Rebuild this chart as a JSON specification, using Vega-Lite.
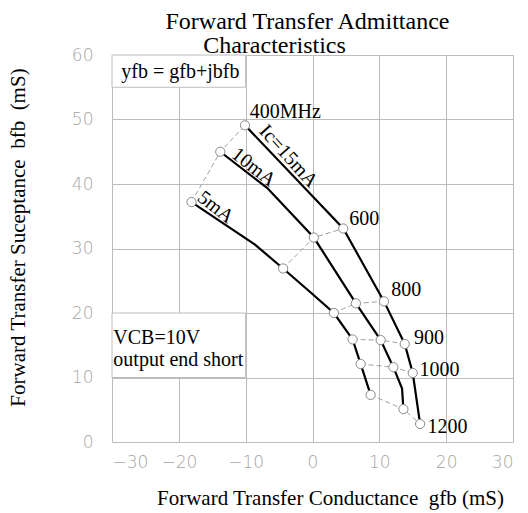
{
  "$schema": "https://vega.github.io/schema/vega-lite/v6.json",
  "width": 401,
  "height": 387,
  "autosize": "none",
  "padding": {"left": 112, "top": 55, "right": 15, "bottom": 71},
  "background": "white",
  "title": {
    "text": "Forward Transfer Admittance",
    "subtitle": "Characteristics\u00a0\u00a0\u00a0\u00a0\u00a0\u00a0\u00a0\u00a0\u00a0\u00a0\u00a0\u200b",
    "font": "Liberation Serif",
    "fontSize": 24,
    "fontWeight": "normal",
    "color": "black",
    "subtitleFont": "Liberation Serif",
    "subtitleFontSize": 24,
    "subtitleColor": "black",
    "subtitlePadding": 0,
    "anchor": "middle",
    "frame": "group",
    "dx": -5,
    "offset": -12
  },
  "config": {
    "view": {"stroke": null},
    "axis": {
      "grid": true,
      "gridColor": "#bcbcbc",
      "gridWidth": 1,
      "ticks": false,
      "domain": false,
      "labelFont": "DejaVu Sans",
      "labelFontWeight": 200,
      "labelFontSize": 17,
      "labelColor": "#a6a6a6",
      "titleFont": "Liberation Serif",
      "titleFontWeight": "normal",
      "titleFontSize": 21,
      "titleColor": "black"
    }
  },
  "layer": [
    {
      "data": {"values": [
        {"g": -30, "g2": -10, "b": 55, "b2": 60},
        {"g": -30, "g2": -10, "b": 10, "b2": 20}
      ]},
      "mark": {"type": "rect", "fill": "white", "stroke": "#bcbcbc", "strokeWidth": 1},
      "encoding": {
        "x": {
          "field": "g", "type": "quantitative",
          "scale": {"domain": [-30, 30], "nice": false, "zero": false},
          "axis": {
            "values": [-30, -25, -20, -15, -10, -5, 0, 5, 10, 15, 20, 25, 30],
            "labelExpr": "datum.value % 10 === 0 ? datum.label : ''",
            "labelPadding": 12,
            "title": "Forward Transfer Conductance\u00a0\u00a0gfb (mS)",
            "titleX": 218,
            "titleY": 62,
            "titleBaseline": "alphabetic"
          }
        },
        "x2": {"field": "g2"},
        "y": {
          "field": "b", "type": "quantitative",
          "scale": {"domain": [0, 60], "nice": false, "zero": false},
          "axis": {
            "values": [0, 5, 10, 15, 20, 25, 30, 35, 40, 45, 50, 55, 60],
            "labelExpr": "datum.value % 10 === 0 ? datum.label : ''",
            "labelPadding": 19,
            "title": "Forward Transfer Suceptance\u00a0\u00a0bfb\u00a0\u00a0(mS)",
            "titleX": -94,
            "titleY": 182,
            "titleAngle": -90,
            "titleBaseline": "middle"
          }
        },
        "y2": {"field": "b2"}
      }
    },
    {
      "data": {"values": [
        {"freq": 400, "ic": 5, "g": -18.1, "b": 37.2},
        {"freq": 400, "ic": 10, "g": -13.8, "b": 45.0},
        {"freq": 400, "ic": 15, "g": -10.1, "b": 49.1},
        {"freq": 600, "ic": 5, "g": -4.4, "b": 26.9},
        {"freq": 600, "ic": 10, "g": 0.2, "b": 31.7},
        {"freq": 600, "ic": 15, "g": 4.6, "b": 33.1},
        {"freq": 800, "ic": 5, "g": 3.2, "b": 20.0},
        {"freq": 800, "ic": 10, "g": 6.5, "b": 21.5},
        {"freq": 800, "ic": 15, "g": 10.7, "b": 21.8},
        {"freq": 900, "ic": 5, "g": 6.0, "b": 15.9},
        {"freq": 900, "ic": 10, "g": 10.2, "b": 15.8},
        {"freq": 900, "ic": 15, "g": 13.8, "b": 15.2},
        {"freq": 1000, "ic": 5, "g": 7.2, "b": 12.1},
        {"freq": 1000, "ic": 10, "g": 12.1, "b": 11.6},
        {"freq": 1000, "ic": 15, "g": 15.0, "b": 10.7},
        {"freq": 1200, "ic": 5, "g": 8.7, "b": 7.3},
        {"freq": 1200, "ic": 10, "g": 13.6, "b": 5.1},
        {"freq": 1200, "ic": 15, "g": 16.1, "b": 2.8}
      ]},
      "mark": {"type": "line", "color": "#a0a0a0", "strokeWidth": 1, "strokeDash": [5, 3]},
      "encoding": {
        "x": {"field": "g", "type": "quantitative"},
        "y": {"field": "b", "type": "quantitative"},
        "detail": {"field": "freq"},
        "order": {"field": "ic"}
      }
    },
    {
      "data": {"values": [
        {"ic": 15, "seq": 1, "g": -10.1, "b": 49.1},
        {"ic": 15, "seq": 2, "g": 4.6, "b": 33.1},
        {"ic": 15, "seq": 3, "g": 10.7, "b": 21.8},
        {"ic": 15, "seq": 4, "g": 13.8, "b": 15.2},
        {"ic": 15, "seq": 5, "g": 15.0, "b": 10.7},
        {"ic": 15, "seq": 6, "g": 16.1, "b": 2.8},
        {"ic": 10, "seq": 1, "g": -13.8, "b": 45.0},
        {"ic": 10, "seq": 2, "g": -6.8, "b": 39.4},
        {"ic": 10, "seq": 3, "g": 0.2, "b": 31.7},
        {"ic": 10, "seq": 4, "g": 6.5, "b": 21.5},
        {"ic": 10, "seq": 5, "g": 10.2, "b": 15.8},
        {"ic": 10, "seq": 6, "g": 12.1, "b": 11.6},
        {"ic": 10, "seq": 7, "g": 13.4, "b": 8.3},
        {"ic": 10, "seq": 8, "g": 13.6, "b": 5.1},
        {"ic": 5, "seq": 1, "g": -18.1, "b": 37.2},
        {"ic": 5, "seq": 2, "g": -8.6, "b": 30.6},
        {"ic": 5, "seq": 3, "g": -4.4, "b": 26.9},
        {"ic": 5, "seq": 4, "g": -0.4, "b": 23.3},
        {"ic": 5, "seq": 5, "g": 3.2, "b": 20.0},
        {"ic": 5, "seq": 6, "g": 6.0, "b": 15.9},
        {"ic": 5, "seq": 7, "g": 7.2, "b": 12.1},
        {"ic": 5, "seq": 8, "g": 8.7, "b": 7.3}
      ]},
      "mark": {"type": "line", "color": "black", "strokeWidth": 2.2},
      "encoding": {
        "x": {"field": "g", "type": "quantitative"},
        "y": {"field": "b", "type": "quantitative"},
        "detail": {"field": "ic"},
        "order": {"field": "seq"}
      }
    },
    {
      "data": {"values": [
        {"freq": 400, "ic": 5, "g": -18.1, "b": 37.2},
        {"freq": 400, "ic": 10, "g": -13.8, "b": 45.0},
        {"freq": 400, "ic": 15, "g": -10.1, "b": 49.1},
        {"freq": 600, "ic": 5, "g": -4.4, "b": 26.9},
        {"freq": 600, "ic": 10, "g": 0.2, "b": 31.7},
        {"freq": 600, "ic": 15, "g": 4.6, "b": 33.1},
        {"freq": 800, "ic": 5, "g": 3.2, "b": 20.0},
        {"freq": 800, "ic": 10, "g": 6.5, "b": 21.5},
        {"freq": 800, "ic": 15, "g": 10.7, "b": 21.8},
        {"freq": 900, "ic": 5, "g": 6.0, "b": 15.9},
        {"freq": 900, "ic": 10, "g": 10.2, "b": 15.8},
        {"freq": 900, "ic": 15, "g": 13.8, "b": 15.2},
        {"freq": 1000, "ic": 5, "g": 7.2, "b": 12.1},
        {"freq": 1000, "ic": 10, "g": 12.1, "b": 11.6},
        {"freq": 1000, "ic": 15, "g": 15.0, "b": 10.7},
        {"freq": 1200, "ic": 5, "g": 8.7, "b": 7.3},
        {"freq": 1200, "ic": 10, "g": 13.6, "b": 5.1},
        {"freq": 1200, "ic": 15, "g": 16.1, "b": 2.8}
      ]},
      "mark": {"type": "point", "shape": "circle", "filled": true, "fill": "white", "stroke": "#8a8a8a", "strokeWidth": 1, "size": 85, "opacity": 1},
      "encoding": {
        "x": {"field": "g", "type": "quantitative"},
        "y": {"field": "b", "type": "quantitative"}
      }
    },
    {
      "data": {"values": [
        {"label": "400MHz", "g": -9.4, "b": 51.2},
        {"label": "600", "g": 5.5, "b": 34.5},
        {"label": "800", "g": 11.8, "b": 23.6},
        {"label": "900", "g": 15.2, "b": 16.1},
        {"label": "1000", "g": 16.0, "b": 11.2},
        {"label": "1200", "g": 17.2, "b": 2.4},
        {"label": "yfb = gfb+jbfb", "g": -28.6, "b": 57.3},
        {"label": "VCB=10V", "g": -29.8, "b": 16.1},
        {"label": "output end short", "g": -29.8, "b": 12.7}
      ]},
      "mark": {"type": "text", "font": "Liberation Serif", "fontSize": 20, "color": "black", "align": "left", "baseline": "middle"},
      "encoding": {
        "x": {"field": "g", "type": "quantitative"},
        "y": {"field": "b", "type": "quantitative"},
        "text": {"field": "label"}
      }
    },
    {
      "data": {"values": [
        {"label": "Ic=15mA", "g": -3.6, "b": 44.3}
      ]},
      "mark": {"type": "text", "font": "Liberation Serif", "fontSize": 20, "color": "black", "align": "center", "baseline": "middle", "angle": 48},
      "encoding": {
        "x": {"field": "g", "type": "quantitative"},
        "y": {"field": "b", "type": "quantitative"},
        "text": {"field": "label"}
      }
    },
    {
      "data": {"values": [
        {"label": "10mA", "g": -8.8, "b": 42.6},
        {"label": "5mA", "g": -14.5, "b": 36.4}
      ]},
      "mark": {"type": "text", "font": "Liberation Serif", "fontSize": 20, "color": "black", "align": "center", "baseline": "middle", "angle": 38},
      "encoding": {
        "x": {"field": "g", "type": "quantitative"},
        "y": {"field": "b", "type": "quantitative"},
        "text": {"field": "label"}
      }
    }
  ]
}
